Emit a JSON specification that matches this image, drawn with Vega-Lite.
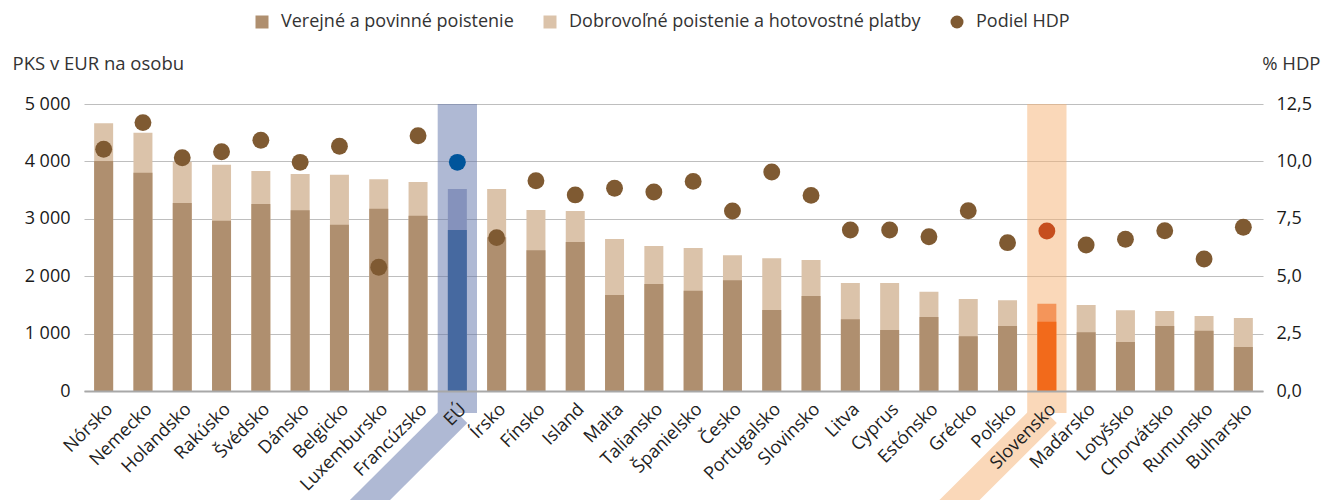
{
  "$schema": "https://vega.github.io/schema/vega-lite/v6.json",
  "width": 1179,
  "height": 287,
  "autosize": {"type": "none"},
  "padding": {"left": 84, "top": 104, "right": 61, "bottom": 109},
  "config": {
    "locale": {"number": {"decimal": ",", "thousands": " ", "grouping": [3], "currency": ["", " €"]}},
    "view": {"stroke": null},
    "font": "Open Sans",
    "legend": {"labelFont": "Open Sans"}
  },
  "data": {
    "values": [
      {"country": "Nórsko", "verejne": 4007, "spolu": 4664, "hdp": 10.53},
      {"country": "Nemecko", "verejne": 3803, "spolu": 4500, "hdp": 11.69},
      {"country": "Holandsko", "verejne": 3275, "spolu": 3995, "hdp": 10.16},
      {"country": "Rakúsko", "verejne": 2967, "spolu": 3943, "hdp": 10.42},
      {"country": "Švédsko", "verejne": 3258, "spolu": 3833, "hdp": 10.92},
      {"country": "Dánsko", "verejne": 3148, "spolu": 3780, "hdp": 9.96},
      {"country": "Belgicko", "verejne": 2898, "spolu": 3769, "hdp": 10.66},
      {"country": "Luxembursko", "verejne": 3177, "spolu": 3688, "hdp": 5.39},
      {"country": "Francúzsko", "verejne": 3055, "spolu": 3641, "hdp": 11.12},
      {"country": "EÚ", "verejne": 2805, "spolu": 3519, "hdp": 9.96},
      {"country": "Írsko", "verejne": 2680, "spolu": 3519, "hdp": 6.68},
      {"country": "Fínsko", "verejne": 2451, "spolu": 3153, "hdp": 9.16},
      {"country": "Island", "verejne": 2596, "spolu": 3136, "hdp": 8.54},
      {"country": "Malta", "verejne": 1672, "spolu": 2648, "hdp": 8.83},
      {"country": "Taliansko", "verejne": 1864, "spolu": 2526, "hdp": 8.67},
      {"country": "Španielsko", "verejne": 1748, "spolu": 2491, "hdp": 9.13},
      {"country": "Česko", "verejne": 1928, "spolu": 2364, "hdp": 7.84},
      {"country": "Portugalsko", "verejne": 1411, "spolu": 2312, "hdp": 9.54},
      {"country": "Slovinsko", "verejne": 1655, "spolu": 2282, "hdp": 8.52},
      {"country": "Litva", "verejne": 1249, "spolu": 1882, "hdp": 7.01},
      {"country": "Cyprus", "verejne": 1063, "spolu": 1882, "hdp": 7.01},
      {"country": "Estónsko", "verejne": 1289, "spolu": 1730, "hdp": 6.72},
      {"country": "Grécko", "verejne": 953, "spolu": 1603, "hdp": 7.85},
      {"country": "Poľsko", "verejne": 1132, "spolu": 1580, "hdp": 6.46},
      {"country": "Slovensko", "verejne": 1208, "spolu": 1521, "hdp": 6.97},
      {"country": "Maďarsko", "verejne": 1022, "spolu": 1498, "hdp": 6.36},
      {"country": "Lotyšsko", "verejne": 854, "spolu": 1406, "hdp": 6.61},
      {"country": "Chorvátsko", "verejne": 1132, "spolu": 1394, "hdp": 6.98},
      {"country": "Rumunsko", "verejne": 1051, "spolu": 1307, "hdp": 5.75},
      {"country": "Bulharsko", "verejne": 767, "spolu": 1272, "hdp": 7.13}
    ]
  },
  "encoding": {
    "x": {
      "field": "country",
      "type": "nominal",
      "sort": null,
      "scale": {
        "domain": ["Nórsko", "Nemecko", "Holandsko", "Rakúsko", "Švédsko", "Dánsko", "Belgicko", "Luxembursko", "Francúzsko", "EÚ", "Írsko", "Fínsko", "Island", "Malta", "Taliansko", "Španielsko", "Česko", "Portugalsko", "Slovinsko", "Litva", "Cyprus", "Estónsko", "Grécko", "Poľsko", "Slovensko", "Maďarsko", "Lotyšsko", "Chorvátsko", "Rumunsko", "Bulharsko"],
        "paddingInner": 0,
        "paddingOuter": 0
      },
      "axis": {
        "title": null,
        "labelAngle": -45,
        "labelFontSize": 18,
        "labelPadding": 9,
        "labelColor": "#222222",
        "ticks": false,
        "domainColor": "#A8A8A8",
        "domainWidth": 2,
        "zindex": 1
      }
    }
  },
  "layer": [
    {
      "layer": [
        {
          "transform": [{"filter": "datum.country === 'EÚ' || datum.country === 'Slovensko'"}],
          "mark": {"type": "rect", "opacity": 0.5},
          "encoding": {
            "y": {"datum": 5000, "type": "quantitative", "scale": {"domain": [0, 5000], "nice": false}},
            "y2": {"datum": -383},
            "fill": {"condition": {"test": "datum.country === 'EÚ'", "value": "#5F73A9"}, "value": "#F5B173"}
          }
        },
        {
          "transform": [{"filter": "datum.country === 'EÚ'"}],
          "mark": {"type": "rule", "strokeWidth": 28.3, "strokeCap": "butt", "color": "#AFB9D4"},
          "encoding": {
            "x": {"field": "country", "type": "nominal", "bandPosition": 0.5},
            "x2": {"datum": "Belgicko", "bandPosition": 0.5},
            "y": {"datum": -383, "type": "quantitative"},
            "y2": {"datum": -2429}
          }
        },
        {
          "transform": [{"filter": "datum.country === 'Slovensko'"}],
          "mark": {"type": "rule", "strokeWidth": 28.3, "strokeCap": "butt", "color": "#FAD8B9"},
          "encoding": {
            "x": {"field": "country", "type": "nominal", "bandPosition": 0.5},
            "x2": {"datum": "Estónsko", "bandPosition": 0.5},
            "y": {"datum": -383, "type": "quantitative"},
            "y2": {"datum": -2429}
          }
        },
        {
          "mark": {"type": "bar", "width": {"band": 0.483}},
          "encoding": {
            "y": {
              "field": "spolu",
              "type": "quantitative",
              "scale": {"domain": [0, 5000], "nice": false},
              "axis": {
                "orient": "left",
                "title": "PKS v EUR na osobu",
                "values": [0, 1000, 2000, 3000, 4000, 5000],
                "format": ",.0f",
                "grid": true,
                "gridColor": "#BEBEBE",
                "gridWidth": 1.2,
                "domain": false,
                "ticks": false,
                "labelPadding": 14,
                "labelFontSize": 18,
                "labelColor": "#1a1a1a",
                "titleAngle": 0,
                "titleAlign": "left",
                "titleBaseline": "middle",
                "titleX": -72,
                "titleY": -41,
                "titleFontSize": 18.5,
                "titleFontWeight": "normal",
                "titleColor": "#333333"
              }
            },
            "color": {
              "datum": "Dobrovoľné poistenie a hotovostné platby",
              "type": "nominal",
              "condition": [
                {"test": "datum.country === 'EÚ'", "value": "#8592BC"},
                {"test": "datum.country === 'Slovensko'", "value": "#F4955A"}
              ],
              "scale": {
                "domain": ["Verejné a povinné poistenie", "Dobrovoľné poistenie a hotovostné platby", "Podiel HDP"],
                "range": ["#AF8F6F", "#DBC3AA", "#7F5A32"]
              },
              "legend": {
                "orient": "none",
                "legendX": 169,
                "legendY": -91,
                "direction": "horizontal",
                "title": null,
                "labelFontSize": 18,
                "labelLimit": 0,
                "labelColor": "#333333",
                "symbolSize": 169,
                "symbolStrokeWidth": 0,
                "symbolOpacity": 1,
                "columnPadding": 27,
                "labelOffset": 10,
                "encode": {
                  "symbols": {
                    "update": {
                      "shape": {"signal": "datum.value === 'Podiel HDP' ? 'circle' : 'square'"}
                    }
                  }
                }
              }
            }
          }
        },
        {
          "mark": {"type": "bar", "width": {"band": 0.483}},
          "encoding": {
            "y": {"field": "verejne", "type": "quantitative", "scale": {"domain": [0, 5000], "nice": false}},
            "color": {
              "datum": "Verejné a povinné poistenie",
              "type": "nominal",
              "condition": [
                {"test": "datum.country === 'EÚ'", "value": "#4669A0"},
                {"test": "datum.country === 'Slovensko'", "value": "#F26A1B"}
              ]
            }
          }
        }
      ]
    },
    {
      "mark": {"type": "circle", "size": 285, "opacity": 1},
      "encoding": {
        "y": {
          "field": "hdp",
          "type": "quantitative",
          "scale": {"domain": [0, 12.5], "nice": false},
          "axis": {
            "orient": "right",
            "title": "% HDP",
            "values": [0, 2.5, 5, 7.5, 10, 12.5],
            "format": ".1f",
            "grid": false,
            "domain": false,
            "ticks": false,
            "labelPadding": 13,
            "labelFontSize": 18,
            "labelColor": "#1a1a1a",
            "titleAngle": 0,
            "titleAlign": "right",
            "titleBaseline": "middle",
            "titleX": 57,
            "titleY": -41,
            "titleFontSize": 18.5,
            "titleFontWeight": "normal",
            "titleColor": "#333333"
          }
        },
        "color": {
          "datum": "Podiel HDP",
          "type": "nominal",
          "condition": [
            {"test": "datum.country === 'EÚ'", "value": "#00559B"},
            {"test": "datum.country === 'Slovensko'", "value": "#C64E1E"}
          ]
        }
      }
    }
  ],
  "resolve": {"scale": {"y": "independent"}}
}
